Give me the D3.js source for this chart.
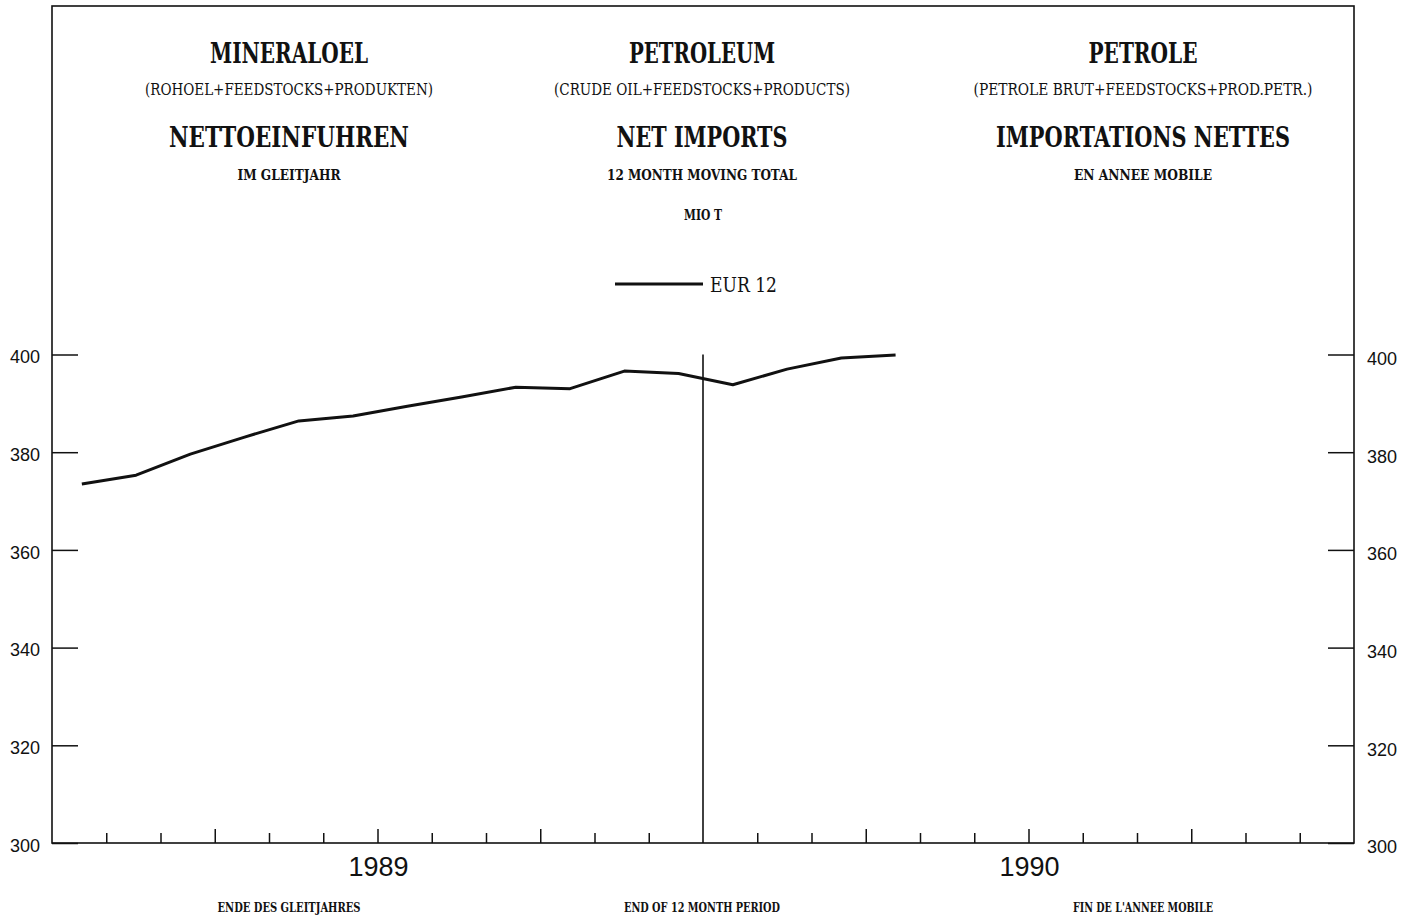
<!DOCTYPE html>
<html>
<head>
<meta charset="utf-8">
<script src="https://cdn.jsdelivr.net/npm/d3@7"></script>
<style>
  body { margin: 0; background: #fff; }
  svg { display: block; }
  .title { font-family: "DejaVu Serif", serif; font-weight: bold; fill: #111; }
  .sub { font-family: "DejaVu Serif Condensed", "DejaVu Serif", serif; fill: #111; }
  .tick text { font-family: "Liberation Sans", Arial, sans-serif; font-size: 18px; fill: #111; }
</style>
</head>
<body>
<svg id="chart" width="1415" height="919"></svg>
<script>
// ------------------ DATA ------------------

// months Jan 1989 .. Apr 1990, 12 month moving total, Mio t
const months = ["1989-01", "1989-02", "1989-03", "1989-04", "1989-05", "1989-06",
    "1989-07", "1989-08", "1989-09", "1989-10", "1989-11", "1989-12",
    "1990-01", "1990-02", "1990-03", "1990-04"];
const eur12 = [373.5, 375.3, 379.6, 383.1, 386.4, 387.4, 389.4, 391.3,
    393.3, 393.0, 396.6, 396.1, 393.8, 397.0, 399.3, 399.9];

const yTicks = [300, 320, 340, 360, 380, 400];
const years = ["1989", "1990"];
const seriesName = "EUR 12";

// title blocks: german / english / french
const titleRow1 = ["MINERALOEL", "PETROLEUM", "PETROLE"];
const titleRow2 = ["(ROHOEL+FEEDSTOCKS+PRODUKTEN)", "(CRUDE OIL+FEEDSTOCKS+PRODUCTS)", "(PETROLE BRUT+FEEDSTOCKS+PROD.PETR.)"];
const titleRow3 = ["NETTOEINFUHREN", "NET IMPORTS", "IMPORTATIONS NETTES"];
const titleRow4 = ["IM GLEITJAHR", "12 MONTH MOVING TOTAL", "EN ANNEE MOBILE"];
const unitLabel = "MIO T";
const xTitles = ["ENDE DES GLEITJAHRES", "END OF 12 MONTH PERIOD", "FIN DE L'ANNEE MOBILE"];

// ------------------ LAYOUT ------------------

let svg = d3.select("#chart");
const plotLeft = 52, plotRight = 1354, plotTop = 6, plotBottom = 843;
const colX = [289, 702, 1143];

// x in months from Jan 1989 (0) to Jan 1991 (24)
let x = d3.scaleLinear().domain([0, 24]).range([plotLeft, plotRight]);
let y = d3.scaleLinear().domain([300, 400]).range([plotBottom, 354.5]);

// ------------------ FRAME & AXES ------------------

svg.append("rect")
    .attr("x", plotLeft).attr("y", plotTop)
    .attr("width", plotRight - plotLeft).attr("height", plotBottom - plotTop)
    .attr("fill", "none").attr("stroke", "#111").attr("stroke-width", 1.6);

let yLeft = svg.append("g")
    .attr("transform", "translate(" + plotLeft + ",0)")
    .call(d3.axisLeft(y).tickValues(yTicks).tickSize(-26).tickSizeOuter(0).tickPadding(12));

let yRight = svg.append("g")
    .attr("transform", "translate(" + plotRight + ",0)")
    .call(d3.axisRight(y).tickValues(yTicks).tickSize(-26).tickSizeOuter(0).tickPadding(13));

let xTickValues = d3.range(1, 24).filter((m) => m != 12);
let xAxis = svg.append("g")
    .attr("transform", "translate(0," + plotBottom + ")")
    .call(d3.axisBottom(x).tickValues(xTickValues).tickSize(-10).tickSizeOuter(0).tickFormat(""));

// quarter ticks are a bit longer
xAxis.selectAll(".tick line")
    .attr("y2", (d) => { return d % 3 == 0 ? -14 : -10; });

[yLeft, yRight, xAxis].forEach((g) => {
    g.select(".domain").remove();
    g.selectAll(".tick line").attr("stroke", "#111").attr("stroke-width", 1.5);
    g.attr("font-family", null).attr("font-size", null);
});

// labels sit a touch below their ticks in the original
yLeft.selectAll(".tick text").attr("dy", "0.45em");
yRight.selectAll(".tick text").attr("dy", "0.55em");

// year separator
svg.append("line")
    .attr("x1", x(12)).attr("x2", x(12))
    .attr("y1", y(300)).attr("y2", y(400))
    .attr("stroke", "#111").attr("stroke-width", 1.6);

// year labels, centred on each half
svg.selectAll(".year")
    .data(years)
    .enter().append("text")
    .attr("class", "year")
    .attr("x", (d, i) => { return x(i * 12 + 6) + 1; })
    .attr("y", 876)
    .attr("text-anchor", "middle")
    .attr("font-family", "Liberation Sans, Arial, sans-serif")
    .attr("font-size", 27)
    .attr("fill", "#111")
    .text((d) => d);

// ------------------ SERIES ------------------

let line = d3.line()
    .x((d, i) => { return x(i + 0.55); })
    .y((d) => { return y(d); });

svg.append("path")
    .datum(eur12)
    .attr("d", line)
    .attr("fill", "none")
    .attr("stroke", "#111")
    .attr("stroke-width", 3)
    .attr("stroke-linejoin", "round");

// legend
svg.append("line")
    .attr("x1", 615).attr("x2", 703)
    .attr("y1", 284).attr("y2", 284)
    .attr("stroke", "#111").attr("stroke-width", 3);

svg.append("text")
    .attr("class", "sub")
    .attr("x", 710).attr("y", 292)
    .attr("font-size", 20)
    .attr("textLength", 67).attr("lengthAdjust", "spacingAndGlyphs")
    .text(seriesName);

// ------------------ TITLES ------------------

function addRow(texts, cls, baseline, size, widths) {
    svg.selectAll(null)
        .data(texts)
        .enter().append("text")
        .attr("class", cls)
        .attr("x", (d, i) => colX[i])
        .attr("y", baseline)
        .attr("text-anchor", "middle")
        .attr("font-size", size)
        .attr("textLength", (d, i) => widths[i])
        .attr("lengthAdjust", "spacingAndGlyphs")
        .text((d) => d);
}

addRow(titleRow1, "title", 63, 27, [158, 146, 109]);
addRow(titleRow2, "sub", 95, 17, [288, 296, 339]);
addRow(titleRow3, "title", 147, 28, [240, 171, 294]);
addRow(titleRow4, "title", 180, 15, [103, 190, 138]);
addRow(xTitles, "title", 912, 13, [143, 156, 140]);

svg.append("text")
    .attr("class", "title")
    .attr("x", colX[1] + 1).attr("y", 220)
    .attr("text-anchor", "middle")
    .attr("font-size", 14)
    .attr("textLength", 38).attr("lengthAdjust", "spacingAndGlyphs")
    .text(unitLabel);
</script>
</body>
</html>
